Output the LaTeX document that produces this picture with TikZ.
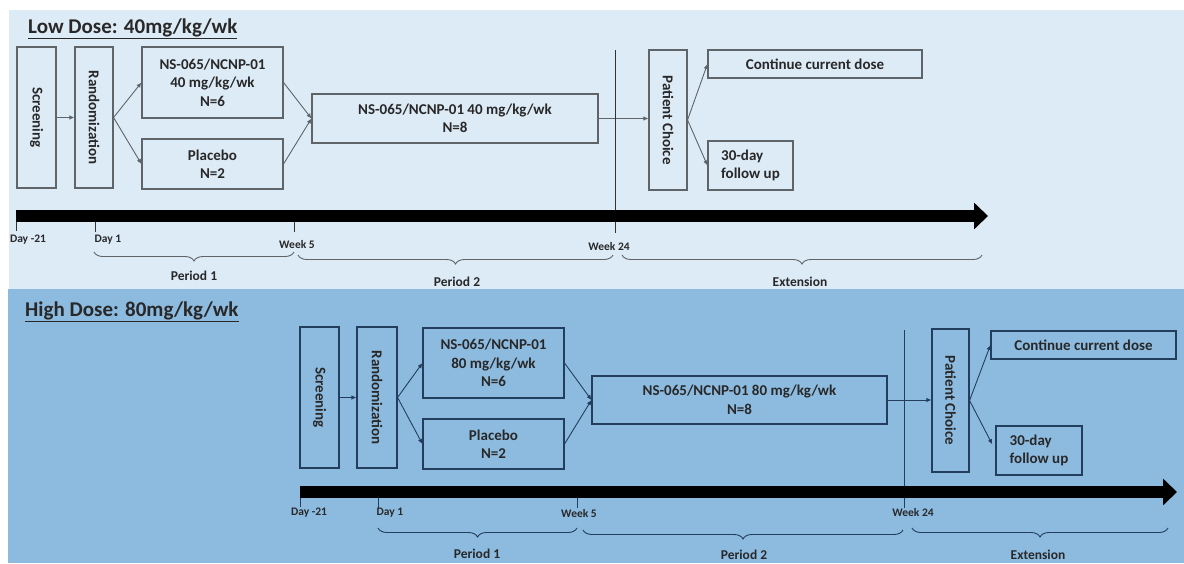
\documentclass[tikz,border=0pt]{standalone}
\usepackage{fontspec}
\setmainfont{Carlito}
\usetikzlibrary{arrows.meta,decorations.pathreplacing}
\definecolor{lowbg}{RGB}{221,235,247}
\definecolor{highbg}{RGB}{141,187,224}
\definecolor{lowline}{RGB}{95,100,105}
\definecolor{highline}{RGB}{35,62,92}
\definecolor{ink}{RGB}{40,40,40}
\begin{document}
\begin{tikzpicture}[x=1pt,y=-1pt,
  box/.style={draw=#1, line width=1.1pt, inner sep=0pt, align=center, text=ink,
    font=\bfseries\fontsize{15}{18.5}\selectfont},
  vbox/.style={box=#1, rotate=-90},
  arr/.style={draw=#1, line width=0.9pt, -{Latex[length=5pt,width=4.5pt]}},
  bar/.style={line width=12pt, draw=black, -{Triangle[length=14pt,width=26pt]}},
  tick/.style={draw=#1, line width=0.9pt},
  brc/.style={draw=#1, line width=0.9pt, decorate, decoration={brace, mirror, amplitude=9pt}},
  lbl/.style={inner sep=0pt, text=ink, font=\bfseries\fontsize{11.5}{13}\selectfont},
  plbl/.style={inner sep=0pt, text=ink, font=\bfseries\fontsize{13.5}{15}\selectfont},
  ttl/.style={inner sep=0pt, anchor=base west, text=ink, font=\bfseries\fontsize{21}{24}\selectfont}]
\useasboundingbox (0,0) rectangle (1184,563);
\fill[white] (0,0) rectangle (1184,563);
\fill[lowbg] (9,10) rectangle (1184,289);
\fill[highbg] (8,289) rectangle (1184,563);

% ---------------- Low dose panel ----------------
\node[ttl] (ttlA) at (28,33) {\underline{Low Dose: 40mg/kg/wk}};
\node[vbox=lowline, minimum width=141pt, minimum height=39pt] (scrA) at (36.5,117.5) {Screening};
\node[vbox=lowline, minimum width=141pt, minimum height=38pt] (rndA) at (94,117.5) {Randomization};
\node[box=lowline, minimum width=141pt, minimum height=71pt] (trtA) at (212.5,82.5) {NS-065/NCNP-01\\40 mg/kg/wk\\N=6};
\node[box=lowline, minimum width=141pt, minimum height=50pt] (plaA) at (212.5,164) {Placebo\\N=2};
\node[box=lowline, minimum width=286pt, minimum height=49pt] (bigA) at (455,118.5) {NS-065/NCNP-01 40 mg/kg/wk\\N=8};
\node[vbox=lowline, minimum width=140pt, minimum height=38pt] (pcA) at (668,120) {Patient Choice};
\node[box=lowline, minimum width=214pt, minimum height=28pt] (conA) at (815,64) {Continue current dose};
\node[box=lowline, minimum width=85pt, minimum height=49pt, align=left] (fuA) at (750.5,165.5) {30-day\\follow up};

\draw[arr=lowline] (scrA.north) -- (rndA.south);
\draw[arr=lowline] (rndA.north) -- (trtA.west);
\draw[arr=lowline] (rndA.north) -- (plaA.west);
\draw[arr=lowline] (trtA.east) -- (bigA.west);
\draw[arr=lowline] (plaA.east) -- (bigA.west);
\draw[arr=lowline] (bigA.east) -- (bigA.east -| pcA.south);
\draw[arr=lowline] (pcA.north) -- (conA.west);
\draw[arr=lowline] (pcA.north) -- (fuA.west);

\coordinate (vAt) at (615,50);
\coordinate (vAb) at (615,233);
\draw[tick=black!80] (vAt) -- (vAb);

\coordinate (tA0) at (16,216);
\coordinate (tA1) at (988,216);
\draw[bar] (tA0) -- (tA1);

\coordinate (kA0a) at (16,222); \coordinate (kA0b) at (16,231);
\coordinate (kA1a) at (95,222); \coordinate (kA1b) at (95,232);
\coordinate (kA5a) at (294,222); \coordinate (kA5b) at (294,232);
\draw[tick=black!80] (kA0a) -- (kA0b);
\draw[tick=black!80] (kA1a) -- (kA1b);
\draw[tick=black!80] (kA5a) -- (kA5b);

\node[lbl] (dA0) at (28,240) {Day -21};
\node[lbl] (dA1) at (108,240) {Day 1};
\node[lbl] (dA5) at (297,245) {Week 5};
\node[lbl] (dA24) at (609,247) {Week 24};

\coordinate (bA1a) at (94,252); \coordinate (bA1b) at (294,252);
\coordinate (bA2a) at (298,255); \coordinate (bA2b) at (613,255);
\coordinate (bA3a) at (622,255); \coordinate (bA3b) at (982,255);
\draw[brc=lowline] (bA1a) -- (bA1b);
\draw[brc=lowline] (bA2a) -- (bA2b);
\draw[brc=lowline] (bA3a) -- (bA3b);
\node[plbl] (pA1) at (194,276) {Period 1};
\node[plbl] (pA2) at (457,282) {Period 2};
\node[plbl] (pA3) at (800,282) {Extension};

% ---------------- High dose panel ----------------
\node[ttl] (ttlB) at (25,316) {\underline{High Dose: 80mg/kg/wk}};
\node[vbox=highline, minimum width=141pt, minimum height=39pt] (scrB) at (319.5,397.5) {Screening};
\node[vbox=highline, minimum width=141pt, minimum height=40pt] (rndB) at (377,397.5) {Randomization};
\node[box=highline, minimum width=141pt, minimum height=70pt] (trtB) at (493.5,363) {NS-065/NCNP-01\\80 mg/kg/wk\\N=6};
\node[box=highline, minimum width=141pt, minimum height=50pt] (plaB) at (493.5,444) {Placebo\\N=2};
\node[box=highline, minimum width=295pt, minimum height=48pt] (bigB) at (739.5,400) {NS-065/NCNP-01 80 mg/kg/wk\\N=8};
\node[vbox=highline, minimum width=143pt, minimum height=37pt] (pcB) at (950.5,400.5) {Patient Choice};
\node[box=highline, minimum width=185pt, minimum height=28pt] (conB) at (1083.5,345) {Continue current dose};
\node[box=highline, minimum width=86pt, minimum height=49pt, align=left] (fuB) at (1039,450.5) {30-day\\follow up};

\draw[arr=highline] (scrB.north) -- (rndB.south);
\draw[arr=highline] (rndB.north) -- (trtB.west);
\draw[arr=highline] (rndB.north) -- (plaB.west);
\draw[arr=highline] (trtB.east) -- (bigB.west);
\draw[arr=highline] (plaB.east) -- (bigB.west);
\draw[arr=highline] (bigB.east) -- (bigB.east -| pcB.south);
\draw[arr=highline] (pcB.north) -- (conB.west);
\draw[arr=highline, shorten >=7pt] (pcB.north) -- (fuB.west);

\coordinate (vBt) at (904,330);
\coordinate (vBb) at (904,508);
\draw[tick=highline] (vBt) -- (vBb);

\coordinate (tB0) at (300,492);
\coordinate (tB1) at (1177,492);
\draw[bar] (tB0) -- (tB1);

\coordinate (kB0a) at (300,498); \coordinate (kB0b) at (300,507);
\coordinate (kB1a) at (378,498); \coordinate (kB1b) at (378,508);
\coordinate (kB5a) at (577,498); \coordinate (kB5b) at (577,508);
\draw[tick=highline] (kB0a) -- (kB0b);
\draw[tick=highline] (kB1a) -- (kB1b);
\draw[tick=highline] (kB5a) -- (kB5b);

\node[lbl] (dB0) at (309,513) {Day -21};
\node[lbl] (dB1) at (390,513) {Day 1};
\node[lbl] (dB5) at (579,513) {Week 5};
\node[lbl] (dB24) at (913,512) {Week 24};

\coordinate (bB1a) at (378,528); \coordinate (bB1b) at (577,528);
\coordinate (bB2a) at (583,530); \coordinate (bB2b) at (903,530);
\coordinate (bB3a) at (912,528); \coordinate (bB3b) at (1168,528);
\draw[brc=highline] (bB1a) -- (bB1b);
\draw[brc=highline] (bB2a) -- (bB2b);
\draw[brc=highline] (bB3a) -- (bB3b);
\node[plbl] (pB1) at (477,554) {Period 1};
\node[plbl] (pB2) at (744,555) {Period 2};
\node[plbl] (pB3) at (1038,555) {Extension};
\end{tikzpicture}
\end{document}
